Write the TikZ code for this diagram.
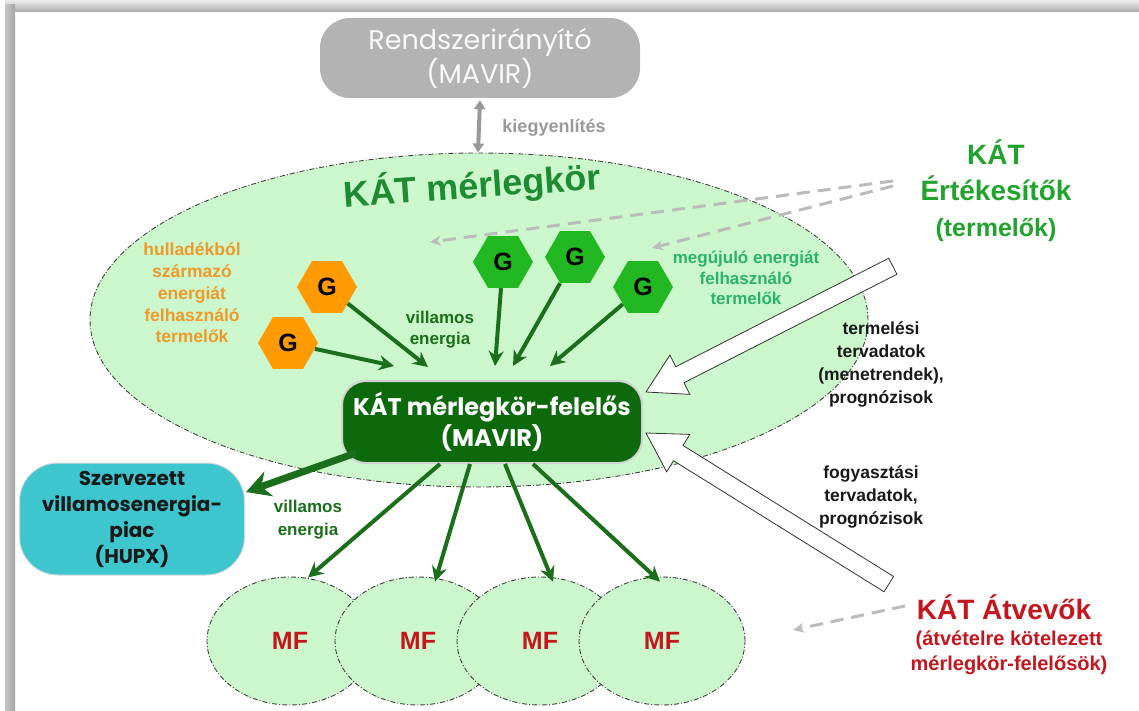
\documentclass[tikz,border=0pt]{standalone}
\usepackage{fontspec}
\setmainfont{Liberation Sans}
\newfontfamily\gothic{Poppins}
\usetikzlibrary{shapes.geometric,arrows.meta,calc}
\newcommand\myfs[2]{\fontsize{#1}{#2}\selectfont}
\definecolor{lgreen}{HTML}{CCF7CC}
\definecolor{dgreen}{HTML}{1B6F1B}
\definecolor{boxgreen}{HTML}{0C690C}
\definecolor{titlegreen}{HTML}{1E8C32}
\definecolor{ertgreen}{HTML}{22A32E}
\definecolor{hexgreen}{HTML}{22B822}
\definecolor{teal}{HTML}{2BB36A}
\definecolor{orangehex}{HTML}{FF9A00}
\definecolor{orangetxt}{HTML}{EE9A2A}
\definecolor{mfred}{HTML}{C4161C}
\definecolor{hupx}{HTML}{3EC6CF}
\definecolor{dashgray}{HTML}{BBBBBB}
\definecolor{boxgray}{HTML}{B3B3B3}
\tikzset{
  lbl/.style={align=center, inner sep=0pt, font=\bfseries\myfs{17}{23}},
  hexo/.style={regular polygon, regular polygon sides=6, minimum size=60pt, inner sep=0pt, fill=orangehex, font=\bfseries\myfs{25}{25}},
  hexg/.style={hexo, fill=hexgreen},
  genarrow/.style={draw=dgreen, line width=4pt, -{Stealth[length=15pt,width=15pt]}},
  dasharrow/.style={draw=dashgray, line width=3pt, dash pattern=on 13pt off 8pt, -{Stealth[length=11pt,width=10pt]}},
  dashdot/.style={draw=black!75, line width=0.9pt, dash pattern=on 5pt off 2pt on 1pt off 2pt},
  mfell/.style={ellipse, minimum width=166pt, minimum height=128pt, inner sep=0pt, fill=lgreen, dashdot, text=mfred, font=\bfseries\myfs{25}{25}},
  blockarrow/.style={fill=white, draw=black!80, line width=0.8pt, line join=miter},
}
\begin{document}
\begin{tikzpicture}[x=1pt,y=-1pt]
\useasboundingbox (0,0) rectangle (1139,711);
\fill[white] (0,0) rectangle (1139,711);
% frame
\shade[top color=gray!15, bottom color=gray!65] (5,0) rectangle (1139,12);
\shade[left color=gray!45, right color=gray!70] (5,5) rectangle (15,711);

% big ellipse
\node[ellipse, minimum width=778pt, minimum height=334pt, inner sep=0pt, fill=lgreen, dashdot] (kor) at (479,320) {};
\node[rotate=4, text=titlegreen, font=\bfseries\myfs{36}{36}] (kortitle) at (472,186) {KÁT mérlegkör};

% system operator
\node[rounded corners=30pt, minimum width=320pt, minimum height=80pt, fill=boxgray, text=white!95!gray, align=center, font=\gothic\myfs{27}{34}] (rsz) at (480,58) {Rendszerirányító\\(MAVIR)};
\draw[draw=gray!80, line width=4pt, {Triangle[length=9pt,width=11pt]}-{Triangle[length=9pt,width=11pt]}] ([yshift=-2pt]rsz.south) -- ([xshift=-1pt]kor.north);
\node[lbl, text=gray!80, font=\bfseries\myfs{18}{18}] (kieg) at (554,128) {kiegyenlítés};

% sellers
\node[lbl, text=ertgreen, font=\bfseries\myfs{28}{36}] (ert) at (996,191) {KÁT\\Értékesítők\\{\myfs{25}{30}(termelők)}};
\coordinate (d1s) at (893,181);
\coordinate (d2s) at (893,186);
\coordinate (d1e) at (430,242);
\coordinate (d2e) at (652,248);
\draw[dasharrow] (d1s) -- (d1e);
\draw[dasharrow] (d2s) -- (d2e);

% labels in ellipse
\node[lbl, text=orangetxt, font=\bfseries\myfs{17.5}{21.7}] (hul) at (192,293) {hulladékból\\származó\\energiát\\felhasználó\\termelők};
\node[lbl, text=teal, font=\bfseries\myfs{17}{20.5}] (meg) at (746,278) {megújuló energiát\\felhasználó\\termelők};
\node[lbl, text=dgreen, font=\bfseries\myfs{17}{21}] (ve1) at (440,330) {villamos\\energia};

% generators
\node[hexo] (o1) at (327,287) {G};
\node[hexo] (o2) at (288,343) {G};
\node[hexg] (g1) at (503,262) {G};
\node[hexg] (g2) at (575,257) {G};
\node[hexg] (g3) at (643,287) {G};

% central box
\node[rounded corners=24pt, minimum width=300pt, minimum height=82pt, fill=boxgreen, draw=gray!35, line width=2pt, text=white, align=center, font=\gothic\bfseries\myfs{24}{31}] (mf) at (492,422) {KÁT mérlegkör-felelős\\(MAVIR)};

\coordinate (e1) at (428,367);
\coordinate (e2) at (394,366);
\coordinate (e3) at (495,366);
\coordinate (e4) at (513,366);
\coordinate (e5) at (550,366);
\draw[genarrow] (o1) -- (e1);
\draw[genarrow] (o2) -- (e2);
\draw[genarrow] (g1) -- (e3);
\draw[genarrow] (g2) -- (e4);
\draw[genarrow] (g3) -- (e5);

% HUPX
\node[rounded corners=38pt, minimum width=225pt, minimum height=112pt, fill=hupx, draw=gray!30, line width=1pt, text=black!90, align=center, font=\gothic\bfseries\myfs{20}{26}] (hupx) at (132,519) {Szervezett\\villamosenergia-\\piac\\(HUPX)};
\draw[draw=dgreen, line width=7pt, -{Stealth[length=24pt,width=26pt]}] ([xshift=15pt,yshift=11pt]mf.south west) -- ([xshift=1pt,yshift=27pt]hupx.east);
\node[lbl, text=dgreen, font=\bfseries\myfs{17}{23}] (ve2) at (308,520) {villamos\\energia};

% MF ellipses
\node[mfell] (m1) at (290,641) {MF};
\node[mfell] (m2) at (418,641) {MF};
\node[mfell] (m3) at (540,641) {MF};
\node[mfell] (m4) at (662,641) {MF};
\draw[genarrow] ([xshift=-52pt]mf.south) -- ([xshift=18pt,yshift=-1pt]m1.north);
\draw[genarrow] ([xshift=-22pt]mf.south) -- ([xshift=17pt,yshift=-5pt]m2.north);
\draw[genarrow] ([xshift=13pt]mf.south) -- ([xshift=13pt,yshift=-5pt]m3.north);
\draw[genarrow] ([xshift=41pt]mf.south) -- ([xshift=-2pt,yshift=-5pt]m4.north);

% white block arrows
\coordinate (t1) at ([xshift=3pt,yshift=30pt]mf.east);
\coordinate (t2) at ([xshift=3pt,yshift=-11pt]mf.east);
\begin{scope}[shift={(t1)}, rotate=27]
  \draw[blockarrow] (0,0) -- (38,22) -- (38,9) -- (277,9) -- (277,-9) -- (38,-9) -- (38,-22) -- cycle;
\end{scope}
\begin{scope}[shift={(t2)}, rotate=-31.9]
  \draw[blockarrow] (0,0) -- (38,22) -- (38,9) -- (286,9) -- (286,-9) -- (38,-9) -- (38,-22) -- cycle;
\end{scope}
\node[lbl, text=black!90, font=\bfseries\myfs{17.5}{23}] (term) at (881,364) {termelési\\tervadatok\\(menetrendek),\\prognózisok};
\node[lbl, text=black!90, font=\bfseries\myfs{17.5}{23}] (fogy) at (871,497) {fogyasztási\\tervadatok,\\prognózisok};

% receivers
\node[lbl, text=mfred, font=\bfseries\myfs{28}{28}] (atv) at (1004,607) {KÁT Átvevők};
\node[lbl, text=mfred, font=\bfseries\myfs{20}{25}] (atvsub) at (1009,653) {(átvételre kötelezett\\mérlegkör-felelősök)};
\coordinate (d3s) at (905,606);
\coordinate (d3e) at (793,630);
\draw[dasharrow] (d3s) -- (d3e);
\end{tikzpicture}
\end{document}
